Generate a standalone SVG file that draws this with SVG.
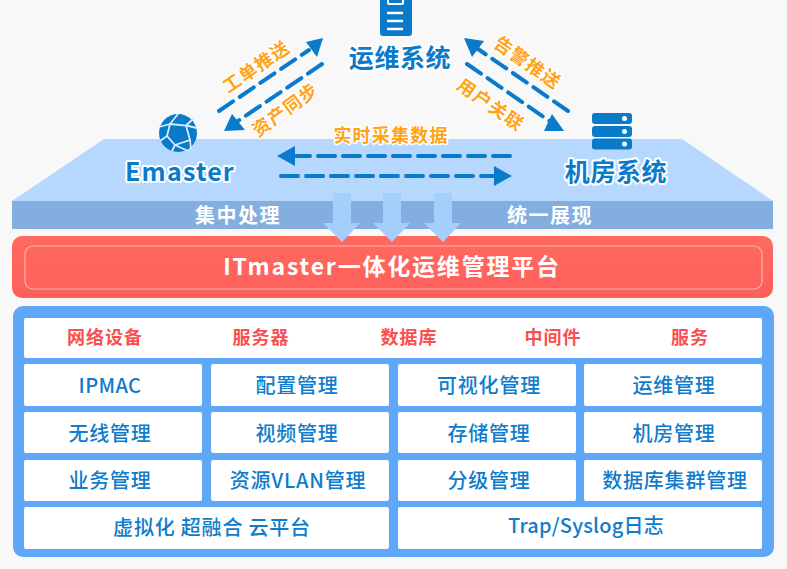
<svg xmlns="http://www.w3.org/2000/svg" width="787" height="569" viewBox="0 0 787 569">
<style>
text{font-family:"Noto Sans CJK SC","Noto Sans",sans-serif;text-anchor:middle}
.cell{fill:#fff}
.m{font-size:20px;font-weight:500;fill:#0f7ccb;letter-spacing:.8px}
.r{font-size:18px;font-weight:700;fill:#fb4f4f;letter-spacing:1px}
.o{font-size:18px;font-weight:700;fill:#ffa31a;stroke:#fff;stroke-width:3;paint-order:stroke;stroke-linejoin:round;letter-spacing:1.200px}
.n{font-size:25px;font-weight:700;fill:#0a7acb;stroke:#fff;stroke-width:4;paint-order:stroke;stroke-linejoin:round;letter-spacing:.6px}
.w{font-size:20px;font-weight:700;fill:#fff;letter-spacing:1.500px}
.d{fill:none;stroke:#0a7acb;stroke-width:4;stroke-linecap:round;stroke-dasharray:17 8}
.h{fill:#0a7acb}
.b{fill:#a5cffb}
</style>
<defs>
<linearGradient id="red" x1="0" y1="0" x2="0" y2="1"><stop offset="0" stop-color="#ff6a5f"/><stop offset="1" stop-color="#fe5f5b"/></linearGradient>
</defs>
<rect width="787" height="569" fill="#f8f8f8"/>
<g id="base">
<polygon points="104,139 682,139 773,201 12,201" fill="#b7d8fe"/>
<rect x="12" y="201" width="761" height="28" fill="#82aee0"/>
<text class="w" x="238" y="223">集中处理</text>
<text class="w" x="550" y="223">统一展现</text>
</g>
<g id="platform">
<rect x="12" y="236" width="761" height="62" rx="10" fill="url(#red)"/>
<rect x="25" y="246" width="737" height="43" rx="8" fill="none" stroke="#ffb5ad" stroke-width="1.200"/>
<text x="392" y="275" font-size="23" font-weight="700" fill="#fff" letter-spacing="1.800">ITmaster一体化运维管理平台</text>
</g>
<g id="flow-arrows">
<path class="b" d="M333 193h18v30h9l-18 19-19-19h10z"/>
<path class="b" d="M383 193h18v30h9l-18 19-19-19h10z"/>
<path class="b" d="M434 193h18v30h9l-18 19-19-19h10z"/>
</g>
<g id="connectors">
<path class="d" d="M219 111L309 50"/><polygon class="h" points="323,38 306,42 317,57"/>
<path class="d" d="M322 64L238 121"/><polygon class="h" points="224,131 232,114 245,130"/>
<path class="d" d="M568 111L478 49"/><polygon class="h" points="464,38 484,41 472,57"/>
<path class="d" d="M467 64L551 122"/><polygon class="h" points="564,131 552,114 544,131"/>
<path class="d" d="M510 156L296 156"/><polygon class="h" points="277,156 295,146 295,166"/>
<path class="d" d="M281 176L494 176"/><polygon class="h" points="512,176 494,166 494,186"/>
</g>
<g id="labels">
<text class="o" transform="translate(260,72) rotate(-34.500)">工单推送</text>
<text class="o" transform="translate(289,115) rotate(-36)">资产同步</text>
<text class="o" transform="translate(524,68) rotate(35)">告警推送</text>
<text class="o" transform="translate(487,110) rotate(35)">用户关联</text>
<text class="o" x="391" y="142">实时采集数据</text>
</g>
<g id="node-ops">
<rect x="380" y="-6" width="32" height="42" rx="3" fill="#0a7acb"/>
<rect x="388" y="-5" width="15" height="9" rx="1" fill="none" stroke="#fff" stroke-width="2"/>
<path d="M387 13h16M387 21h16M387 29h16" stroke="#fff" stroke-width="2.500" fill="none"/>
<text class="n" x="400" y="67">运维系统</text>
</g>
<g id="node-emaster">
<circle cx="178" cy="133" r="19" fill="#0a7acb"/>
<path d="M170 124L186 125.500 190 140 175 145 167 136ZM170 124L178 114M170 124L159 127M186 125.500L194 118M186 125.500L197 128M190 140L191 149M175 145L172 151M175 145L188 151M167 136L160 141" fill="none" stroke="#d8ecff" stroke-width="1.800"/>
<text class="n" x="180" y="181" style="letter-spacing:1.200px">Emaster</text>
</g>
<g id="node-room">
<rect x="592" y="113" width="40" height="11" rx="3" fill="#0a7acb"/>
<rect x="592" y="126" width="40" height="11" rx="3" fill="#0a7acb"/>
<rect x="592" y="138.500" width="40" height="11" rx="3" fill="#0a7acb"/>
<circle cx="624.500" cy="118.500" r="2.500" fill="#fff"/><circle cx="624.500" cy="131.500" r="2.500" fill="#fff"/><circle cx="624.500" cy="144" r="2.500" fill="#fff"/>
<text class="n" x="616" y="181">机房系统</text>
</g>
<g id="panel">
<rect x="13" y="306" width="761" height="251" rx="10" fill="#5fa7f8"/>
</g>
<g id="row-categories">
<rect class="cell" x="24" y="318" width="738" height="40" rx="2"/>
<text class="r" x="105" y="344">网络设备</text>
<text class="r" x="261" y="344">服务器</text>
<text class="r" x="409" y="344">数据库</text>
<text class="r" x="553" y="344">中间件</text>
<text class="r" x="690" y="344">服务</text>
</g>
<g id="cell-ipmac"><rect class="cell" x="24" y="364" width="178" height="42" rx="2"/><text class="m" x="110" y="393" style="letter-spacing:.4px">IPMAC</text></g>
<g id="cell-config"><rect class="cell" x="211" y="364" width="178" height="42" rx="2"/><text class="m" x="297" y="393">配置管理</text></g>
<g id="cell-visual"><rect class="cell" x="398" y="364" width="178" height="42" rx="2"/><text class="m" x="489" y="393">可视化管理</text></g>
<g id="cell-ops"><rect class="cell" x="584" y="364" width="178" height="42" rx="2"/><text class="m" x="674" y="393">运维管理</text></g>
<g id="cell-wireless"><rect class="cell" x="24" y="412" width="178" height="41" rx="2"/><text class="m" x="110" y="441">无线管理</text></g>
<g id="cell-video"><rect class="cell" x="211" y="412" width="178" height="41" rx="2"/><text class="m" x="297" y="441">视频管理</text></g>
<g id="cell-storage"><rect class="cell" x="398" y="412" width="178" height="41" rx="2"/><text class="m" x="489" y="441">存储管理</text></g>
<g id="cell-room"><rect class="cell" x="584" y="412" width="178" height="41" rx="2"/><text class="m" x="674" y="441">机房管理</text></g>
<g id="cell-business"><rect class="cell" x="24" y="460" width="178" height="41" rx="2"/><text class="m" x="110" y="488">业务管理</text></g>
<g id="cell-vlan"><rect class="cell" x="211" y="460" width="178" height="41" rx="2"/><text class="m" x="298" y="488">资源VLAN管理</text></g>
<g id="cell-grade"><rect class="cell" x="398" y="460" width="178" height="41" rx="2"/><text class="m" x="489" y="488">分级管理</text></g>
<g id="cell-cluster"><rect class="cell" x="584" y="460" width="178" height="41" rx="2"/><text class="m" x="675" y="488">数据库集群管理</text></g>
<g id="cell-virtual"><rect class="cell" x="24" y="507" width="365" height="42" rx="2"/><text class="m" x="212" y="535">虚拟化 超融合 云平台</text></g>
<g id="cell-log"><rect class="cell" x="398" y="507" width="364" height="42" rx="2"/><text class="m" x="586" y="533" style="letter-spacing:.2px">Trap/Syslog日志</text></g>
</svg>
